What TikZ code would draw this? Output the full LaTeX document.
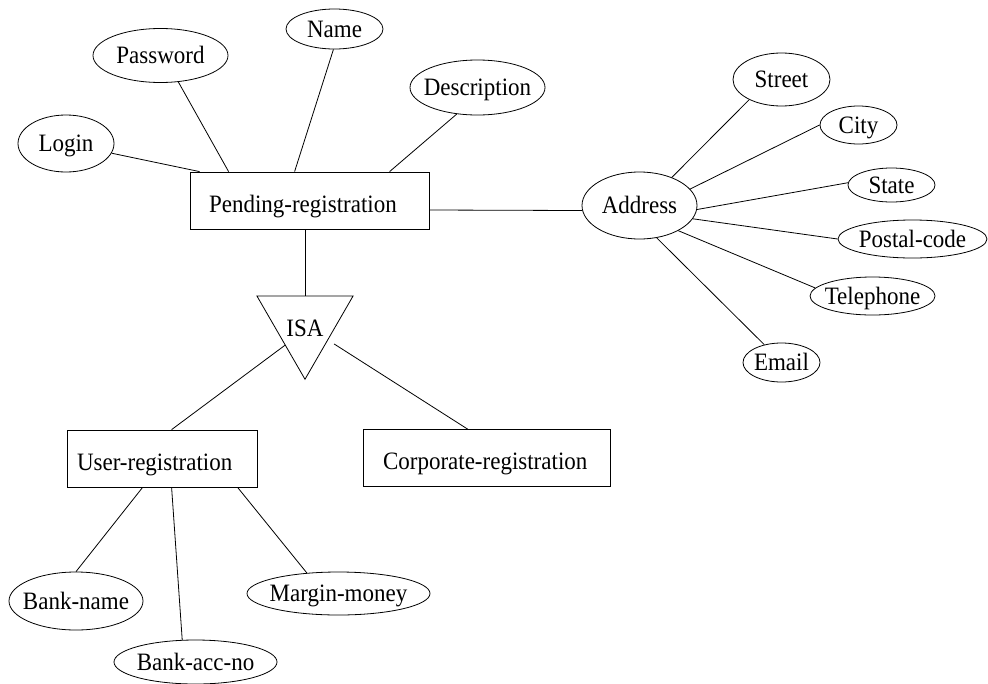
\documentclass[tikz,border=0pt]{standalone}
\usepackage{fontspec}
\setmainfont{Liberation Serif}[FakeStretch=0.92]
\usetikzlibrary{shapes.geometric}
\newcommand\attrtext[1]{\makebox[0pt]{#1}}
\begin{document}
\begin{tikzpicture}[x=1pt,y=-1pt,
  base/.style={font=\fontsize{25}{30}\selectfont, line width=0.8pt},
  entity/.style={base, draw, rectangle, inner ysep=0pt, minimum height=57pt,
    align=left, text height=23.5pt, text depth=0pt},
  attr/.style={base, draw, ellipse, inner sep=0pt, text height=16.5pt, text depth=0pt},
  isarel/.style={base, draw, regular polygon, regular polygon sides=3,
    shape border rotate=180, minimum size=111pt, inner sep=0pt,
    text height=25pt, text depth=0pt},
  link/.style={line width=0.8pt}]
\useasboundingbox (0,0) rectangle (988,683);

% entities
\node[entity, inner xsep=19pt, text width=201pt] (pend) at (309.5,200.5) {Pending-registration};
\node[entity, inner xsep=10pt, text width=170pt] (user) at (162,458.5) {User-registration};
\node[entity, inner xsep=20pt, text width=207pt] (corp) at (486.5,458) {Corporate-registration};

% generalisation
\node[isarel] (isa) at (305,323.75) {ISA};

% attributes of the pending registration
\node[attr, minimum width=96pt, minimum height=57pt] (login) at (66,143.5) {\attrtext{Login}};
\node[attr, minimum width=135pt, minimum height=54pt] (password) at (160.5,55.5) {\attrtext{Password}};
\node[attr, minimum width=97pt, minimum height=40pt] (name) at (334.5,29) {\attrtext{Name}};
\node[attr, minimum width=135pt, minimum height=55pt] (desc) at (477.5,87.5) {\attrtext{Description}};
\node[attr, minimum width=115pt, minimum height=67pt] (addr) at (639.5,205.5) {\attrtext{Address}};

% parts of the address
\node[attr, minimum width=97pt, minimum height=53pt] (street) at (781.5,79.5) {\attrtext{Street}};
\node[attr, minimum width=77pt, minimum height=38pt] (city) at (858.5,125) {\attrtext{City}};
\node[attr, minimum width=87pt, minimum height=34pt] (state) at (891.5,185) {\attrtext{State}};
\node[attr, minimum width=149pt, minimum height=38pt] (postal) at (912.5,239) {\attrtext{Postal-code}};
\node[attr, minimum width=125pt, minimum height=38pt] (tel) at (872.5,296) {\attrtext{Telephone}};
\node[attr, minimum width=77pt, minimum height=39pt] (email) at (781.5,362.5) {\attrtext{Email}};

% attributes of the user registration
\node[attr, minimum width=134pt, minimum height=58pt] (bname) at (76,601) {\attrtext{Bank-name}};
\node[attr, minimum width=163pt, minimum height=44pt] (bacc) at (195.5,662) {\attrtext{Bank-acc-no}};
\node[attr, minimum width=183pt, minimum height=43pt] (margin) at (338.5,593.5) {\attrtext{Margin-money}};

% connectors
\draw[link] (login.-12) -- ([xshift=10pt]pend.north west);
\draw[link] (password.-56) -- ([xshift=39pt]pend.north west);
\draw[link] (name.-93) -- ([xshift=105pt]pend.north west);
\draw[link] (desc.-128) -- ([xshift=200pt]pend.north west);
\draw[link] ([yshift=-9.5pt]pend.east) -- (addr.185);

\draw[link] (addr.41) -- (street.212);
\draw[link] (addr.18) -- (city.180);
\draw[link] (addr.-4) -- (state.177);
\draw[link] (addr.-14) -- (postal.180);
\draw[link] (addr.-33) -- (tel.172);
\draw[link] (addr.-62) -- (email.134);

\draw[link] ([xshift=-4.5pt]pend.south) -- (isa.90);
\draw[link] (isa.227) -- ([xshift=105pt]user.north west);
\draw[link] ([shift={(6,4)}]isa.-35) -- ([xshift=105pt]corp.north west);

\draw[link] ([xshift=76pt]user.south west) -- (bname.north);
\draw[link] ([xshift=105pt]user.south west) -- (bacc.121);
\draw[link] ([xshift=171pt]user.south west) -- (margin.147);
\end{tikzpicture}
\end{document}
